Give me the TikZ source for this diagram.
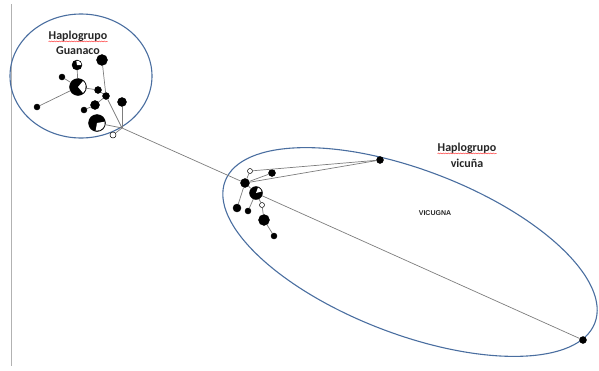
\documentclass[tikz,border=0pt]{standalone}
\usepackage{fontspec}
\setmainfont{Carlito}
\newfontfamily\arialfont{Liberation Sans}
\usetikzlibrary{decorations.pathmorphing}
\definecolor{elipseazul}{RGB}{74,110,160}
\definecolor{ramagris}{RGB}{125,125,125}
\tikzset{
  hapn/.style={circle, fill=black, draw=black, inner sep=0pt, minimum size=#1},
  hapb/.style={circle, fill=white, draw=black, line width=0.5pt, inner sep=0pt, minimum size=#1},
  rama/.style={draw=ramagris, line width=0.7pt},
  grupo/.style={draw=elipseazul, line width=1.1pt},
  etiqueta/.style={font=\bfseries\fontsize{12}{14}\selectfont, text=black!85, inner sep=0pt},
}
% cuna blanca dentro de un haplotipo
\newcommand{\cuna}[4]{\fill[white] (#1.center) -- ++(#2:#4) arc[start angle=#2, end angle=#3, radius=#4] -- cycle;}

\begin{document}
\begin{tikzpicture}[x=1pt, y=-1pt]
        \useasboundingbox (0,0) rectangle (599,370);
        % eje
        \draw[gray!60, line width=0.8pt] (11,4) -- (11,366);

        % grupos
        \draw[grupo] (81,76) ellipse [x radius=71, y radius=62];
        \draw[grupo, rotate around={-21:(410,252)}] (410,252) ellipse [x radius=198, y radius=82];

        % haplotipos guanaco
        \node[hapn=17pt] (g1) at (78,87) {};
        \node[hapn=6pt] (g2) at (62,77) {};
        \node[hapn=10pt] (g3) at (77,65) {};
        \node[hapn=11pt] (g4) at (102,60) {};
        \node[hapn=6pt] (g5) at (37,107) {};
        \node[hapn=7pt] (g6) at (98,90) {};
        \node[hapn=7pt] (g7) at (106,96) {};
        \node[hapn=9pt] (g8) at (95,105) {};
        \node[hapn=6pt] (g9) at (84,110) {};
        \node[hapn=9pt] (g10) at (122,102) {};
        \node[hapn=17pt] (g11) at (97,123) {};
        \node[hapb=6pt] (g12) at (113,135) {};
        \coordinate (jg) at (122,128);
        \cuna{g1}{-50}{50}{7.8pt}
        \cuna{g3}{0}{100}{4.3pt}
        \cuna{g11}{-100}{10}{7.8pt}

        \draw[rama] (g5) -- (g1);
        \draw[rama] (g2) -- (g1);
        \draw[rama] (g3) -- (g1);
        \draw[rama] (g1) -- (g6);
        \draw[rama] (g6) -- (g7);
        \draw[rama] (g4) -- (g7);
        \draw[rama] (g7) -- (jg);
        \draw[rama] (g9) -- (g8);
        \draw[rama] (g8) -- (g7);
        \draw[rama] (g10) -- (jg);
        \draw[rama] (g11) -- (jg);
        \draw[rama] (g12) -- (jg);

        % haplotipos vicuna
        \node[hapb=5pt] (v1) at (250,171) {};
        \node[hapn=7pt] (v2) at (272,173) {};
        \node[hapn=9pt] (v3) at (245,183) {};
        \node[hapn=13pt] (v4) at (256,193) {};
        \node[hapb=5pt] (v5) at (262,205) {};
        \node[hapn=8pt] (v6) at (237,208) {};
        \node[hapn=6pt] (v7) at (248,211) {};
        \node[hapn=11pt] (v8) at (264,220) {};
        \node[hapn=6pt] (v9) at (274,236) {};
        \node[hapn=7pt] (v10) at (380,160) {};
        \node[hapn=7pt] (v11) at (583,340) {};
        \cuna{v4}{15}{70}{5.8pt}

        \draw[rama] (jg) -- (v3);
        \draw[rama] (v3) -- (v4);
        \draw[rama] (v4) -- (v11);
        \draw[rama] (v1) -- (v10);
        \draw[rama] (v3) -- (v10);
        \draw[rama] (v3) -- (v2);
        \draw[rama] (v1) -- (v3);
        \draw[rama] (v3) -- (v6);
        \draw[rama] (v4) -- (v7);
        \draw[rama] (v4) -- (v5);
        \draw[rama] (v5) -- (v8);
        \draw[rama] (v8) -- (v9);

        % textos
        \node[etiqueta] (tg1) at (78,36) {Haplogrupo};
        \node[etiqueta] (tg2) at (78,51) {Guanaco};
        \node[etiqueta] (tv1) at (467,148) {Haplogrupo};
        \node[etiqueta] (tv2) at (467,163) {vicuña};
        \node[font=\arialfont\bfseries\fontsize{7}{8}\selectfont, text=black!85] (tvic) at (435,213) {VICUGNA};
        \draw[red!80, line width=0.4pt, decorate, decoration={snake, amplitude=0.5pt, segment length=2.5pt}] (tg1.south west) -- (tg1.south east);
        \draw[red!80, line width=0.4pt, decorate, decoration={snake, amplitude=0.5pt, segment length=2.5pt}] (tv1.south west) -- (tv1.south east);
    \end{tikzpicture}
\end{document}
